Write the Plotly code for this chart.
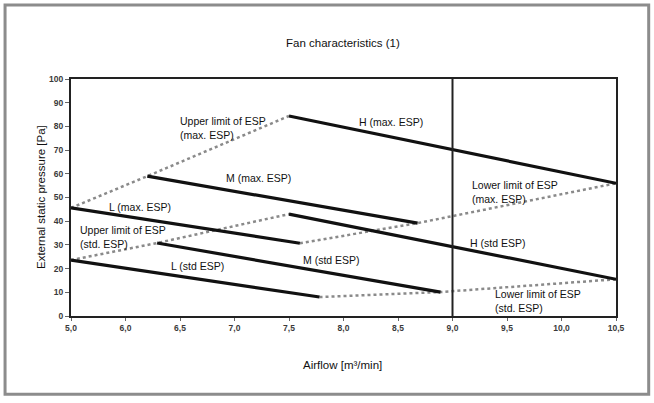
import plotly.graph_objects as go

# ---- data ----
h_max_x = [7.5, 10.5]
h_max_y = [84.4, 56.0]
m_max_x = [6.2, 8.68]
m_max_y = [59.0, 39.2]
l_max_x = [5.5, 7.6]
l_max_y = [45.6, 30.7]

h_std_x = [7.5, 10.5]
h_std_y = [43.0, 15.5]
m_std_x = [6.29, 8.89]
m_std_y = [30.8, 10.1]
l_std_x = [5.5, 7.78]
l_std_y = [23.6, 8.0]

x_tickvals = [5.5, 6.0, 6.5, 7.0, 7.5, 8.0, 8.5, 9.0, 9.5, 10.0, 10.5]
x_ticktext = ["5,0", "6,0", "6,5", "7,0", "7,5", "8,0", "8,5", "9,0", "9,5", "10,0", "10,5"]
y_tickvals = [0, 10, 20, 30, 40, 50, 60, 70, 80, 90, 100]

FONT = "Liberation Sans, Arial, sans-serif"

solid = [(h_max_x, h_max_y), (m_max_x, m_max_y), (l_max_x, l_max_y),
         (h_std_x, h_std_y), (m_std_x, m_std_y), (l_std_x, l_std_y)]

# limit curves connect the ends of the solid lines
upper_max = ([l_max_x[0], m_max_x[0], h_max_x[0]], [l_max_y[0], m_max_y[0], h_max_y[0]])
lower_max = ([l_max_x[1], m_max_x[1], h_max_x[1]], [l_max_y[1], m_max_y[1], h_max_y[1]])
upper_std = ([l_std_x[0], m_std_x[0], h_std_x[0]], [l_std_y[0], m_std_y[0], h_std_y[0]])
lower_std = ([l_std_x[1], m_std_x[1], h_std_x[1]], [l_std_y[1], m_std_y[1], h_std_y[1]])

fig = go.Figure()
for xs, ys in [upper_max, lower_max, upper_std, lower_std]:
    fig.add_trace(go.Scatter(x=xs, y=ys, mode="lines",
                             line=dict(color="#8a8a8a", width=2.5, dash="dot"),
                             hoverinfo="skip", showlegend=False))
for xs, ys in solid:
    fig.add_trace(go.Scatter(x=xs, y=ys, mode="lines",
                             line=dict(color="#111111", width=3.2),
                             showlegend=False))

labels = [
    ("Upper limit of ESP<br>(max. ESP)", 6.48, 79.5, "left"),
    ("H (max. ESP)", 8.44, 81.9, "center"),
    ("M (max. ESP)", 7.22, 58.2, "center"),
    ("L (max. ESP)", 6.13, 46.0, "center"),
    ("Lower limit of ESP<br>(max. ESP)", 9.16, 52.3, "left"),
    ("Upper limit of ESP<br>(std. ESP)", 5.56, 33.3, "left"),
    ("L (std ESP)", 6.66, 21.1, "center"),
    ("M (std ESP)", 7.89, 23.6, "center"),
    ("H (std ESP)", 9.41, 30.8, "center"),
    ("Lower limit of ESP<br>(std. ESP)", 9.37, 6.3, "left"),
]
for txt, x, y, anc in labels:
    fig.add_annotation(x=x, y=y, text=txt, showarrow=False, xanchor=anc, yanchor="middle",
                       align="left", font=dict(family=FONT, size=10.5, color="#111111"))

# titles
fig.add_annotation(xref="paper", yref="paper", x=0.499, y=1.186, text="Fan characteristics (1)",
                   showarrow=False, font=dict(family=FONT, size=11.5, color="#111111"))
fig.add_annotation(xref="paper", yref="paper", x=0.499, y=-0.2405, text="Airflow [m³/min]",
                   showarrow=False, font=dict(family=FONT, size=11.5, color="#111111"))
fig.add_annotation(xref="paper", yref="paper", x=-0.0697, y=0.502, text="External static pressure [Pa]",
                   textangle=-90, showarrow=False, font=dict(family=FONT, size=11.5, color="#111111"))

# vertical line at 9.0
fig.add_shape(type="line", xref="x", yref="y", x0=9.0, x1=9.0, y0=0, y1=100,
              line=dict(color="#222222", width=2))
# outer frame
fig.add_shape(type="rect", xref="paper", yref="paper", x0=-0.121, x1=1.06, y0=-0.33, y1=1.312,
              line=dict(color="#8c8c8c", width=3), layer="below")

fig.update_xaxes(range=[5.5, 10.5], tickvals=x_tickvals,
                 ticktext=["<b>" + t + "</b>" for t in x_ticktext],
                 showline=True, linecolor="#222222", linewidth=2, mirror=True,
                 ticks="outside", ticklen=3, tickcolor="#666666", showgrid=False, zeroline=False,
                 tickfont=dict(family=FONT, size=8.5, color="#3a3a3a"))
fig.update_yaxes(range=[0, 100], tickvals=y_tickvals,
                 ticktext=["<b>" + str(v) + "</b>" for v in y_tickvals],
                 showline=True, linecolor="#222222", linewidth=2, mirror=True,
                 ticks="outside", ticklen=4, tickcolor="#666666", showgrid=False, zeroline=False,
                 tickfont=dict(family=FONT, size=8.5, color="#3a3a3a"))

fig.update_layout(width=654, height=403, margin=dict(l=71, r=38, t=79, b=87),
                  paper_bgcolor="white", plot_bgcolor="white", showlegend=False)

fig.write_html("out.html", config={"displayModeBar": False},
               post_script="document.body.style.margin='0';")
